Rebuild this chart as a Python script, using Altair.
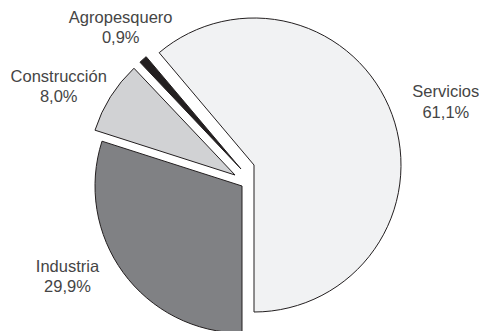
import math
import altair as alt
import pandas as pd

# ---- data ----
categories = ["Servicios", "Industria", "Construcción", "Agropesquero"]
values = [61.1, 29.9, 8.0, 0.9]
pct_labels = ["61,1%", "29,9%", "8,0%", "0,9%"]

df = pd.DataFrame({
    "categoria": categories,
    "valor": values,
    "pct": pct_labels,
    "orden": list(range(len(categories))),
})

total = sum(values)
# Servicios ends exactly at 6 o'clock
rot = math.pi - 2 * math.pi * values[0] / total
theta_scale = alt.Scale(domain=[0, total], range=[rot, rot + 2 * math.pi])

# ---- styles (per slice) ----
fills = {"Servicios": "#f1f2f3", "Industria": "#808184",
         "Construcción": "#d1d2d4", "Agropesquero": "#231f20"}
centers = {"Servicios": (254, 165), "Industria": (242, 186),
           "Construcción": (235, 175), "Agropesquero": (241, 169)}
nudges = {"Servicios": (4, -4), "Industria": (-13, -37),
          "Construcción": (-7, 8), "Agropesquero": (13, -2)}

base = alt.Chart(df).transform_window(
    cum="sum(valor)", sort=[alt.SortField("orden")], frame=[None, 0]
).transform_calculate(
    start="datum.cum - datum.valor",
    mid="datum.cum - datum.valor / 2",
    label="datum.categoria + '\\n' + datum.pct",
)

layers = []
for cat in categories:
    cx, cy = centers[cat]
    dx, dy = nudges[cat]
    sub = base.transform_filter(alt.datum.categoria == cat)
    arc = sub.mark_arc(radius=147, stroke="#231f20", strokeWidth=1,
                       fill=fills[cat]).encode(
        theta=alt.Theta("start:Q", scale=theta_scale),
        theta2="cum:Q",
        x=alt.value(cx),
        y=alt.value(cy),
    )
    txt = sub.mark_text(radius=200, font="Liberation Sans", fontSize=16.5,
                        color="#454545", lineBreak="\n", lineHeight=20.5,
                        align="center", baseline="middle",
                        dx=dx, dy=dy).encode(
        theta=alt.Theta("mid:Q", scale=theta_scale),
        text="label:N",
        x=alt.value(cx),
        y=alt.value(cy),
    )
    layers += [arc, txt]

chart = alt.layer(*layers).properties(
    width=479, height=331, autosize="none", padding=0, background="white"
).configure_view(stroke=None)

chart.save("out.html", embed_options={"renderer": "svg", "actions": False})
